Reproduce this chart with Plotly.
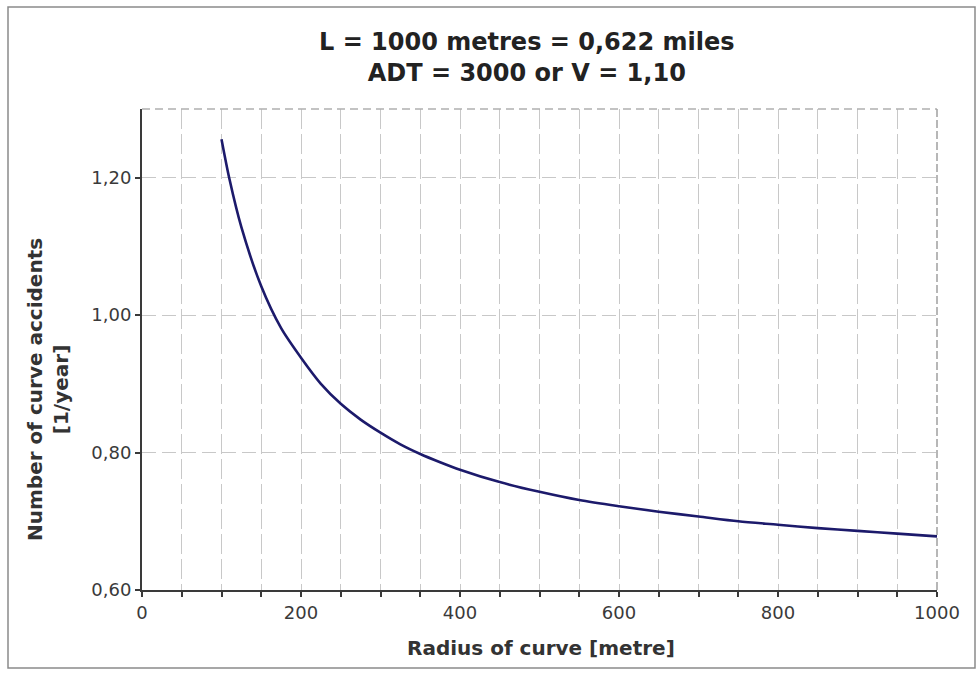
import plotly.graph_objects as go

radius = [100, 110, 125, 150, 175, 200, 225, 250, 275, 300, 325, 350, 375, 400, 450, 500,
          550, 600, 650, 700, 750, 800, 850, 900, 950, 1000]
accidents = [1.256, 1.198, 1.128, 1.042, 0.981, 0.938, 0.900, 0.871, 0.848, 0.829,
             0.812, 0.798, 0.786, 0.775, 0.757, 0.743, 0.731, 0.722, 0.714, 0.707,
             0.700, 0.695, 0.690, 0.686, 0.682, 0.678]

title_lines = ["L = 1000 metres = 0,622 miles", "ADT = 3000 or V = 1,10"]
x_title = "Radius of curve [metre]"
y_title = ["Number of curve accidents", "[1/year]"]

FONT = "DejaVu Sans"
L, R, T, B = 142, 42, 109, 83
W, H = 979, 673
pw, ph = W - L - R, H - T - B

def px(x):
    return (x - L) / pw

def py(y):
    return (H - B - y) / ph

fig = go.Figure()
fig.add_trace(go.Scatter(x=radius, y=accidents, mode="lines",
                         line=dict(color="#1c1a6b", width=2.6, shape="spline", smoothing=0.8),
                         showlegend=False, hoverinfo="skip"))

fig.update_layout(
    width=W, height=H,
    margin=dict(l=L, r=R, t=T, b=B),
    paper_bgcolor="white", plot_bgcolor="white",
    separators=",.",
    font=dict(family=FONT, color="#333333", size=18),
)

tickfont = dict(size=18, color="#3a3a3a", family=FONT)
fig.update_xaxes(
    range=[0, 1000], tickvals=[0, 200, 400, 600, 800, 1000], tickformat="d",
    showline=True, linecolor="#3a3a3a", linewidth=2,
    ticks="outside", ticklen=5, tickwidth=1.5, tickcolor="#3a3a3a",
    showgrid=True, gridcolor="#c8c8c8", gridwidth=1, griddash="20px,5px",
    minor=dict(dtick=50, tick0=0, showgrid=True, gridcolor="#c8c8c8", gridwidth=1,
               griddash="20px,5px", ticks="outside", ticklen=5, tickcolor="#3a3a3a",
               tickwidth=1.5),
    zeroline=False, tickfont=tickfont,
)
fig.update_yaxes(
    range=[0.6, 1.3], tickvals=[0.6, 0.8, 1.0, 1.2], tickformat=".2f",
    showline=True, linecolor="#3a3a3a", linewidth=2,
    ticks="outside", ticklen=5, tickwidth=1.5, tickcolor="#3a3a3a",
    showgrid=True, gridcolor="#c8c8c8", gridwidth=1, griddash="14px,6px",
    zeroline=False, tickfont=tickfont,
)

# dashed top and right borders of the plot area
fig.add_shape(type="line", xref="paper", yref="paper", x0=0, x1=1, y0=1, y1=1,
              line=dict(color="#b0b0b0", width=1.5, dash="8px,5px"))
fig.add_shape(type="line", xref="paper", yref="paper", x0=1, x1=1, y0=0, y1=1,
              line=dict(color="#a0a0a0", width=1.5, dash="8px,3px"))

# outer frame
fig.add_shape(type="rect", xref="paper", yref="paper",
              x0=px(8), x1=px(975), y0=py(668), y1=py(7),
              line=dict(color="#8a8a8a", width=1.5), layer="below")

fig.add_annotation(text="<b>" + title_lines[0] + "<br>" + title_lines[1] + "</b>",
                   xref="paper", yref="paper", x=px(527), y=py(57),
                   showarrow=False, font=dict(size=24, color="#222222", family=FONT),
                   xanchor="center", yanchor="middle")
fig.add_annotation(text="<b>" + x_title + "</b>", xref="paper", yref="paper",
                   x=px(541), y=py(648), showarrow=False,
                   font=dict(size=20, color="#333333", family=FONT),
                   xanchor="center", yanchor="middle")
fig.add_annotation(text="<b>" + y_title[0] + "<br>" + y_title[1] + "</b>",
                   xref="paper", yref="paper", x=px(48), y=py(390), showarrow=False,
                   textangle=-90, font=dict(size=20, color="#333333", family=FONT),
                   xanchor="center", yanchor="middle")

fig.write_html("out.html")
